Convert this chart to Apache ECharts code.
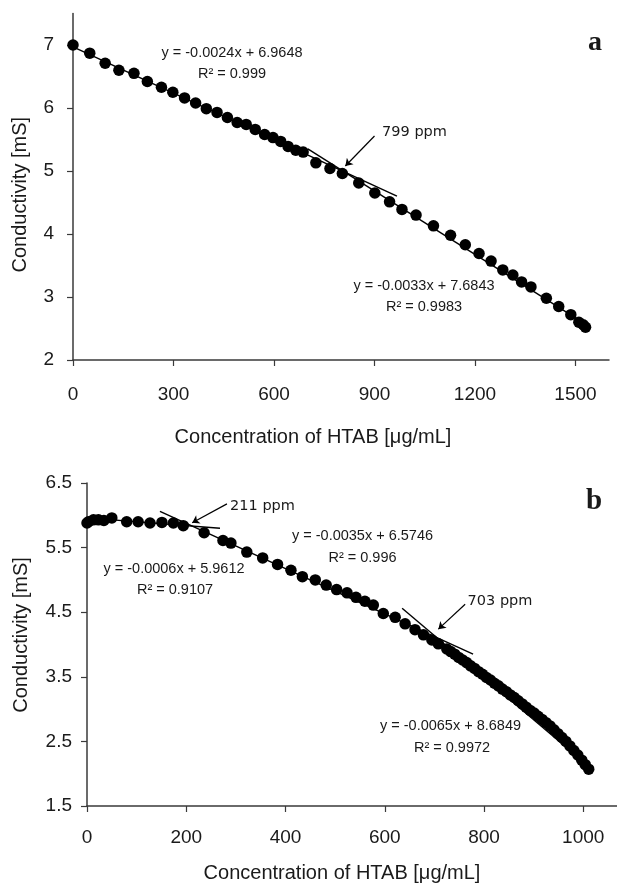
<!DOCTYPE html>
<html>
<head>
<meta charset="utf-8">
<script src="https://cdn.jsdelivr.net/npm/echarts@6/dist/echarts.min.js"></script>
<style>
html,body{margin:0;padding:0;background:#fff;}
#chart{width:617px;height:884px;}
</style>
</head>
<body>
<div id="chart"></div>
<script>
// ---------- Panel a data ----------
const concA = [0,50,96,137,182,222,264,298,333,366,398,430,461,490,517,544,572,597,620,642,665,687,725,767,804,853,901,945,982,1024,1076,1127,1171,1212,1248,1283,1313,1339,1367,1413,1450,1486,1510,1523,1530];
const condA = [7.00,6.87,6.71,6.60,6.55,6.42,6.33,6.25,6.16,6.08,5.99,5.93,5.85,5.77,5.74,5.66,5.58,5.53,5.47,5.39,5.33,5.30,5.13,5.04,4.96,4.81,4.65,4.51,4.39,4.30,4.13,3.98,3.83,3.69,3.57,3.43,3.35,3.24,3.16,2.98,2.85,2.72,2.60,2.56,2.52];
const trendA1 = [[0,6.97],[967,4.60]];
const trendA2 = [[701,5.35],[1520,2.60]];
const arrowA = [[900,5.556],[813,5.08]];
const xTicksA = [0,300,600,900,1200,1500];
const yTicksA = [2,3,4,5,6,7];

// ---------- Panel b data ----------
const concB = [0,3,13,23,34,50,80,103,127,151,174,194,236,274,290,322,354,384,411,434,460,482,503,524,542,560,577,597,621,641,661,678,695,708,
  725,733,741,749,757,765,773,781,789,797,805,813,821,829,837,845,853,861,869,877,885,893,901,909,917,925,933,941,949,957,965,973,981,989,997,1004,1011];
const condB = [5.88,5.90,5.93,5.93,5.92,5.96,5.90,5.90,5.88,5.89,5.88,5.84,5.73,5.61,5.57,5.43,5.34,5.24,5.15,5.05,5.00,4.92,4.85,4.80,4.73,4.67,4.61,4.48,4.42,4.32,4.23,4.15,4.07,4.01,
  3.93,3.89,3.85,3.80,3.76,3.72,3.67,3.63,3.58,3.54,3.49,3.45,3.40,3.36,3.31,3.27,3.22,3.18,3.13,3.08,3.03,2.98,2.94,2.89,2.84,2.79,2.74,2.68,2.62,2.56,2.50,2.43,2.36,2.29,2.21,2.14,2.07];
const trendB1 = [[0,5.96],[268,5.80]];
const trendB2 = [[147,6.06],[778,3.85]];
const trendB3 = [[635,4.56],[1010,2.12]];
const arrowB1 = [[282,6.177],[212,5.885]];
const arrowB2 = [[762,4.623],[708,4.238]];
const xTicksB = [0,200,400,600,800,1000];
const yTicksB = [1.5,2.5,3.5,4.5,5.5,6.5];

// ---------- Texts ----------
const xTitle = 'Concentration of HTAB [μg/mL]';
const yTitle = 'Conductivity [mS]';

const AX = '#3a3a3a';
const TXT = '#1a1a1a';
const SANS = '"Liberation Sans", Arial, sans-serif';
const VERD = '"DejaVu Sans", Verdana, sans-serif';

function zip(xs, ys){ return xs.map((x,i)=>[x, ys[i]]); }

function xAxisCfg(gridIndex, max, ticks, margin, gap, pad){
  return {
    type:'value', gridIndex, min:0, max, interval: ticks[1]-ticks[0],
    axisLine:{show:true, onZero:false, lineStyle:{color:AX, width:1.5}},
    axisTick:{show:true, inside:false, length:6, customValues:ticks, lineStyle:{color:AX, width:1.2}},
    axisLabel:{customValues:ticks, margin, fontFamily:SANS, fontSize:19, color:TXT, formatter:v=>String(v)},
    splitLine:{show:false},
    name:xTitle, nameLocation:'middle', nameGap:gap,
    nameTextStyle:{fontFamily:SANS, fontSize:20, color:TXT, padding:pad}
  };
}
function yAxisCfg(gridIndex, min, max, ticks, gap, pad, margin, fmt){
  return {
    type:'value', gridIndex, min, max,
    axisLine:{show:true, onZero:false, lineStyle:{color:AX, width:1.5}},
    axisTick:{show:true, inside:false, length:6, customValues:ticks, lineStyle:{color:AX, width:1.2}},
    axisLabel:{customValues:ticks, margin, fontFamily:SANS, fontSize:19, color:TXT, formatter:fmt},
    splitLine:{show:false},
    name:yTitle, nameLocation:'middle', nameGap:gap, nameRotate:90,
    nameTextStyle:{fontFamily:SANS, fontSize:20, color:TXT, padding:pad}
  };
}

function trend(idx, data){
  return {type:'line', xAxisIndex:idx, yAxisIndex:idx, data, showSymbol:false, symbol:'none',
    lineStyle:{color:'#000', width:1.4}, z:3, silent:true};
}
function arrow(idx, pts){
  return {type:'lines', coordinateSystem:'cartesian2d', xAxisIndex:idx, yAxisIndex:idx,
    symbol:['none','arrow'], symbolSize:7,
    lineStyle:{color:'#000', width:1.2, opacity:1},
    data:[{coords:pts}], z:4, silent:true};
}

function txt(x, y, s, font, size, weight){
  return {type:'text', x, y, style:{text:s, fontFamily:font, fontSize:size, fontWeight:weight||'normal',
    fill:TXT, align:'center', verticalAlign:'middle'}};
}

const chart = echarts.init(document.getElementById('chart'), null, {renderer:'canvas'});
chart.setOption({
  animation:false,
  backgroundColor:'#fff',
  grid:[
    {left:73, top:13.5, right:8, bottom:524},
    {left:87, top:483, right:0, bottom:76}
  ],
  xAxis:[
    xAxisCfg(0, 1600, xTicksA, 25, 67, [0,56,0,0]),
    xAxisCfg(1, 1068, xTicksB, 22, 57, [0,20,0,0])
  ],
  yAxis:[
    yAxisCfg(0, 2, 7.5, yTicksA, 43, [0,16,0,0], 19, v=>String(v)),
    yAxisCfg(1, 1.5, 6.5, yTicksB, 56, [0,0,0,19], 15, v=>v.toFixed(1))
  ],
  series:[
    {type:'scatter', xAxisIndex:0, yAxisIndex:0, data:zip(concA, condA), symbol:'circle', symbolSize:11.5,
      itemStyle:{color:'#000', opacity:1}, z:2},
    trend(0, trendA1), trend(0, trendA2), arrow(0, arrowA),
    {type:'scatter', xAxisIndex:1, yAxisIndex:1, data:zip(concB, condB), symbol:'circle', symbolSize:11.5,
      itemStyle:{color:'#000', opacity:1}, z:2},
    trend(1, trendB1), trend(1, trendB2), trend(1, trendB3), arrow(1, arrowB1), arrow(1, arrowB2)
  ],
  graphic:[
    txt(232, 53, 'y = -0.0024x + 6.9648', SANS, 14.5),
    txt(232, 74, 'R² = 0.999', SANS, 14.5),
    txt(414.5, 132, '799 ppm', VERD, 14.5),
    txt(424, 285.5, 'y = -0.0033x + 7.6843', SANS, 14.5),
    txt(424, 307, 'R² = 0.9983', SANS, 14.5),
    txt(595, 43, 'a', '"Liberation Serif", "Times New Roman", serif', 28, 'bold'),
    txt(262.5, 506, '211 ppm', VERD, 14.5),
    txt(174, 569, 'y = -0.0006x + 5.9612', SANS, 14.5),
    txt(175, 590, 'R² = 0.9107', SANS, 14.5),
    txt(362.5, 536, 'y = -0.0035x + 6.5746', SANS, 14.5),
    txt(362.5, 558, 'R² = 0.996', SANS, 14.5),
    txt(500, 601, '703 ppm', VERD, 14.5),
    txt(450.5, 726, 'y = -0.0065x + 8.6849', SANS, 14.5),
    txt(452, 748, 'R² = 0.9972', SANS, 14.5),
    txt(594, 502, 'b', '"Liberation Serif", "Times New Roman", serif', 29, 'bold')
  ]
});
</script>
</body>
</html>
